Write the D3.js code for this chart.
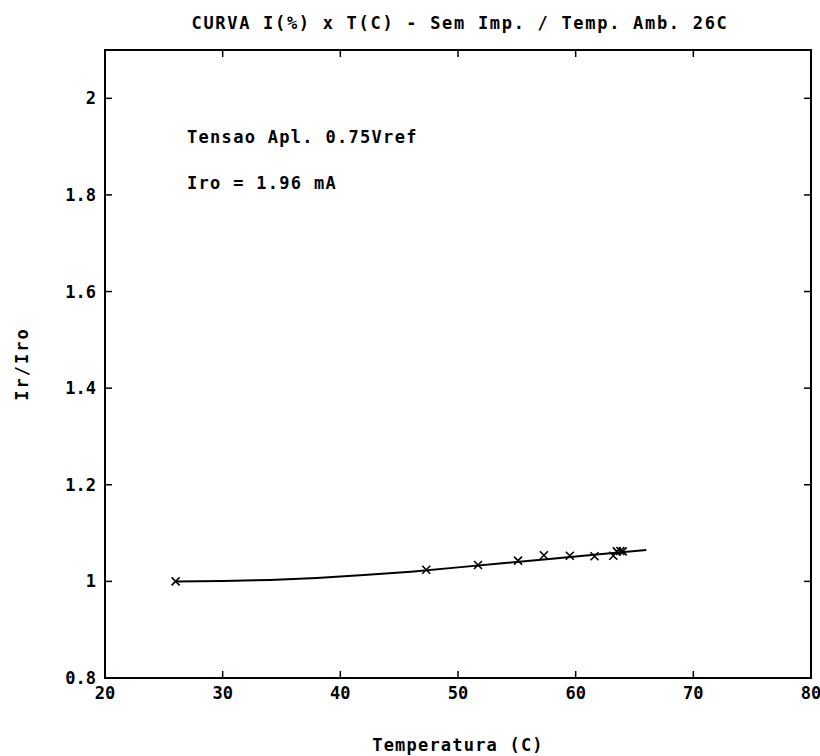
<!DOCTYPE html>
<html>
<head>
<meta charset="utf-8">
<script src="https://cdn.jsdelivr.net/npm/d3@7"></script>
<style>
  body { margin: 0; background: #fff; }
  svg { display: block; }
  text { font-family: "DejaVu Sans Mono", "Liberation Mono", monospace; font-weight: bold; fill: #000; }
</style>
</head>
<body>
<svg width="820" height="756"></svg>
<script>
// fitted curve
const lineTemps = [26, 30, 34, 38, 42, 46, 50, 54, 58, 62, 66];
const lineVals  = [1.000, 1.001, 1.003, 1.007, 1.013, 1.020, 1.029, 1.038, 1.047, 1.056, 1.065];

// measured points
const markTemps = [26, 47.3, 51.7, 55.1, 57.3, 59.5, 61.6, 63.2, 63.5, 63.8, 64.0];
const markVals  = [1.000, 1.024, 1.034, 1.043, 1.054, 1.053, 1.052, 1.053, 1.062, 1.063, 1.062];

const xTicks = [20, 30, 40, 50, 60, 70, 80];
const yTicks = [0.8, 1, 1.2, 1.4, 1.6, 1.8, 2];
const yTickLabels = ['0.8', '1', '1.2', '1.4', '1.6', '1.8', '2'];

const titleText = 'CURVA I(%) x T(C) - Sem Imp. / Temp. Amb. 26C';
const notes = ['Tensao Apl. 0.75Vref', 'Iro = 1.96 mA'];

const pLeft = 105, pRight = 811, pTop = 50, pBottom = 678;

const x = d3.scaleLinear().domain([20, 80]).range([pLeft, pRight]);
const y = d3.scaleLinear().domain([0.8, 2.1]).range([pBottom, pTop]);

const svg = d3.select('svg');

// frame
svg.append('rect')
  .attr('x', pLeft).attr('y', pTop)
  .attr('width', pRight - pLeft).attr('height', pBottom - pTop)
  .attr('fill', 'none').attr('stroke', '#000').attr('stroke-width', 2);

// ticks, all pointing inward
const tick = 7;
const inner = xTicks.slice(1, -1);
svg.append('g').selectAll('line')
  .data(inner).enter().append('line')
  .attr('x1', d => x(d)).attr('x2', d => x(d))
  .attr('y1', pBottom).attr('y2', pBottom - tick)
  .attr('stroke', '#000').attr('stroke-width', 1.5);
svg.append('g').selectAll('line')
  .data(inner).enter().append('line')
  .attr('x1', d => x(d)).attr('x2', d => x(d))
  .attr('y1', pTop).attr('y2', pTop + tick)
  .attr('stroke', '#000').attr('stroke-width', 1.5);
const yInner = yTicks.slice(1);
svg.append('g').selectAll('line')
  .data(yInner).enter().append('line')
  .attr('x1', pLeft).attr('x2', pLeft + tick)
  .attr('y1', d => y(d)).attr('y2', d => y(d))
  .attr('stroke', '#000').attr('stroke-width', 1.5);
svg.append('g').selectAll('line')
  .data(yInner).enter().append('line')
  .attr('x1', pRight).attr('x2', pRight - tick)
  .attr('y1', d => y(d)).attr('y2', d => y(d))
  .attr('stroke', '#000').attr('stroke-width', 1.5);

// tick labels
svg.append('g').selectAll('text')
  .data(xTicks).enter().append('text')
  .attr('x', d => x(d)).attr('y', pBottom + 21)
  .attr('text-anchor', 'middle')
  .style('font-size', '17px')
  .text(d => d);

svg.append('g').selectAll('text')
  .data(yTicks).enter().append('text')
  .attr('x', pLeft - 9).attr('y', d => y(d) + 6)
  .attr('text-anchor', 'end')
  .style('font-size', '17px')
  .text((d, i) => yTickLabels[i]);

// titles
svg.append('text')
  .attr('x', 460).attr('y', 29)
  .attr('text-anchor', 'middle')
  .style('font-size', '17px').style('letter-spacing', '1.7px')
  .text(titleText);

svg.append('text')
  .attr('x', (pLeft + pRight) / 2).attr('y', 751)
  .attr('text-anchor', 'middle')
  .style('font-size', '17px').style('letter-spacing', '1.2px')
  .text('Temperatura (C)');

svg.append('text')
  .attr('transform', 'translate(28,' + ((pTop + pBottom) / 2) + ') rotate(-90)')
  .attr('text-anchor', 'middle')
  .style('font-size', '17px').style('letter-spacing', '2px')
  .text('Ir/Iro');

// notes
svg.append('g').selectAll('text')
  .data(notes).enter().append('text')
  .attr('x', 187).attr('y', (d, i) => 143 + i * 46)
  .style('font-size', '17px').style('letter-spacing', '1.3px')
  .text(d => d);

// curve
const lineData = lineTemps.map((t, i) => [t, lineVals[i]]);
svg.append('path')
  .datum(lineData)
  .attr('fill', 'none').attr('stroke', '#000').attr('stroke-width', 2)
  .attr('d', d3.line().x(d => x(d[0])).y(d => y(d[1])));

// x markers
const s = 4;
svg.append('g').selectAll('path')
  .data(markTemps.map((t, i) => [t, markVals[i]]))
  .enter().append('path')
  .attr('fill', 'none').attr('stroke', '#000').attr('stroke-width', 1.6)
  .attr('d', d => {
    const px = x(d[0]), py = y(d[1]);
    return `M${px - s},${py - s}L${px + s},${py + s}M${px - s},${py + s}L${px + s},${py - s}`;
  });
</script>
</body>
</html>
